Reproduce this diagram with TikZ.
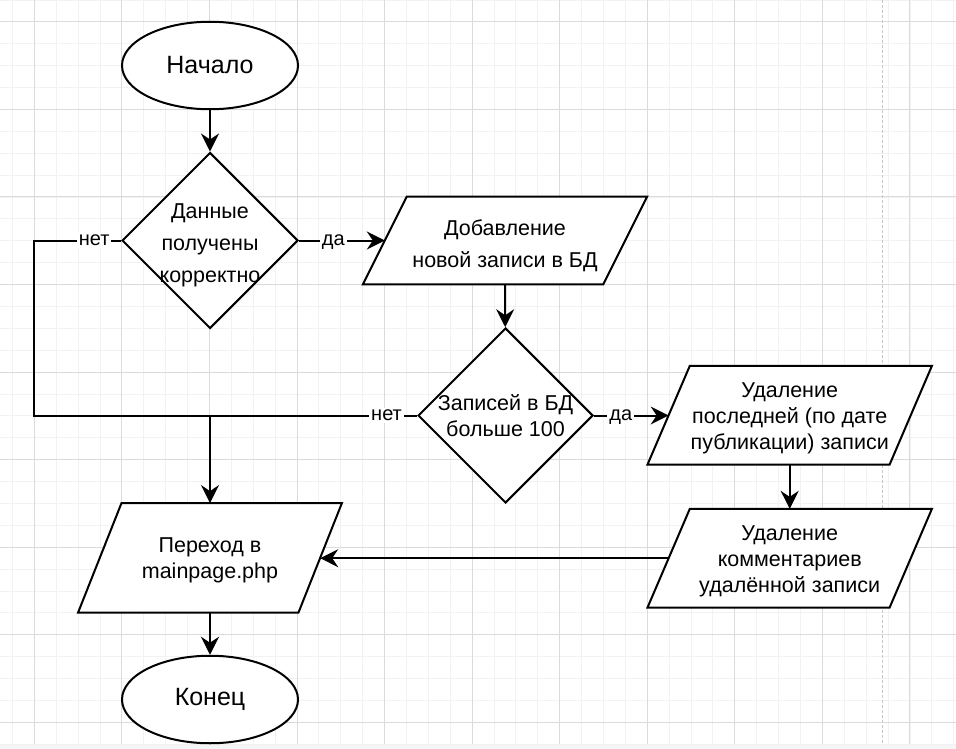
\documentclass[tikz,border=0pt]{standalone}
\usepackage{fontspec}
\setmainfont{Liberation Sans}
\usetikzlibrary{shapes.geometric,arrows.meta,calc}
\pgfdeclarelayer{gridlayer}
\pgfdeclarelayer{shapelayer}
\pgfsetlayers{gridlayer,shapelayer,main}
\tikzset{
  minorgrid/.style={draw=black!5, line width=0.8pt},
  majorgrid/.style={draw=black!14, line width=0.9pt},
  pageline/.style={draw=black!22, line width=1pt, dash pattern=on 3pt off 2pt},
  shapeline/.style={draw=black, line width=2pt, fill=white},
  conn/.style={draw=black, line width=2pt},
  arr/.style={conn, -{Stealth[length=18pt, width=18pt, inset=6pt]}},
  terminal/.style={ellipse, shapeline, minimum width=176pt, minimum height=87.5pt, inner sep=0pt, font=\fontsize{25}{30}\selectfont},
  decision/.style={diamond, shapeline, minimum width=176pt, minimum height=176pt, inner sep=0pt},
  iobox/.style={rectangle, inner sep=0pt},
  dtext/.style={align=center, font=\fontsize{21.5}{26}\selectfont},
  lbl/.style={fill=white, inner sep=2pt, text height=10.4pt, text depth=0pt, font=\fontsize{20}{24}\selectfont},
}
\begin{document}
\begin{tikzpicture}[x=1pt, y=-1pt]
\useasboundingbox (0,0) rectangle (956,749);
\begin{pgfonlayer}{gridlayer}
  \fill[white] (0,0) rectangle (956,749);
  \fill[black!4] (0,744) rectangle (956,749);
  \foreach \k in {-1,...,42} {
    \draw[minorgrid] ({34.3+21.89*\k},0) -- ({34.3+21.89*\k},744);
  }
  \foreach \k in {-1,...,33} {
    \draw[minorgrid] (0,{21.8+21.89*\k}) -- (956,{21.8+21.89*\k});
  }
  \foreach \k in {0,4,...,40} {
    \draw[majorgrid] ({34.3+21.89*\k},0) -- ({34.3+21.89*\k},744);
  }
  \foreach \k in {0,4,...,32} {
    \draw[majorgrid] (0,{21.8+21.89*\k}) -- (956,{21.8+21.89*\k});
  }
  \draw[pageline] (882,0) -- (882,744);
\end{pgfonlayer}

% nodes
\node[terminal] (start) at (210,65.5) {Начало};
\node[decision, label={[dtext, font=\fontsize{21.5}{32}\selectfont, yshift=-4.5pt]center:{Данные\\получены\\корректно}}] (d1) at (210,240.5) {};
\node[iobox, minimum width=240pt, minimum height=87.5pt, label={[dtext, font=\fontsize{21.5}{32}\selectfont, yshift=-5pt]center:{Добавление\\новой записи в БД}}] (p1) at (505,240.5) {};
\node[decision, minimum width=175pt, minimum height=175pt, label={[dtext]center:{Записей в БД\\больше 100}}] (d2) at (505.5,415.5) {};
\node[iobox, minimum width=241.7pt, minimum height=98.3pt, label={[dtext, yshift=-3pt]center:{Удаление\\последней (по дате\\публикации) записи}}] (p2) at (789.7,415.2) {};
\node[iobox, minimum width=241.7pt, minimum height=98.3pt, label={[dtext, yshift=-3pt]center:{Удаление\\комментариев\\удалённой записи}}] (p3) at (789.7,558.2) {};
\node[iobox, minimum width=220pt, minimum height=109pt, label={[dtext, yshift=-3pt]center:{Переход в\\mainpage.php}}] (pm) at (210,557.8) {};
\node[terminal] (end) at (210,699.5) {Конец};

\coordinate (loopL) at (34.3,240.5);
\coordinate (loopB) at (34.3,415.5);
\coordinate (join) at (210,415.5);

% parallelogram outlines
\begin{pgfonlayer}{shapelayer}
  \foreach \n/\s in {p1/22,p2/21.15,p3/21.15,pm/21.7} {
    \draw[shapeline] ([xshift=\s]\n.north west) -- ([xshift=\s]\n.north east)
      -- ([xshift=-\s]\n.south east) -- ([xshift=-\s]\n.south west) -- cycle;
  }
\end{pgfonlayer}

% connectors
\draw[arr] (start) -- (d1);
\draw[arr] (d1.east) -- node[lbl, pos=0.4] {да} (p1.west);
\draw[conn] (d1.west) -- node[lbl, pos=0.31] {нет} (loopL) -- (loopB) -- (join);
\draw[arr] (p1) -- (d2);
\draw[arr] (d2.east) -- node[lbl, pos=0.36] {да} (d2.east -| p2.west);
\draw[arr] (d2.west) -- node[lbl, pos=0.147] {нет} (join) -- (pm.north);
\draw[arr] (p2) -- (p3);
\draw[arr] (p3.west) -- (p3.west -| pm.east);
\draw[arr] (pm) -- (end);
\end{tikzpicture}
\end{document}
